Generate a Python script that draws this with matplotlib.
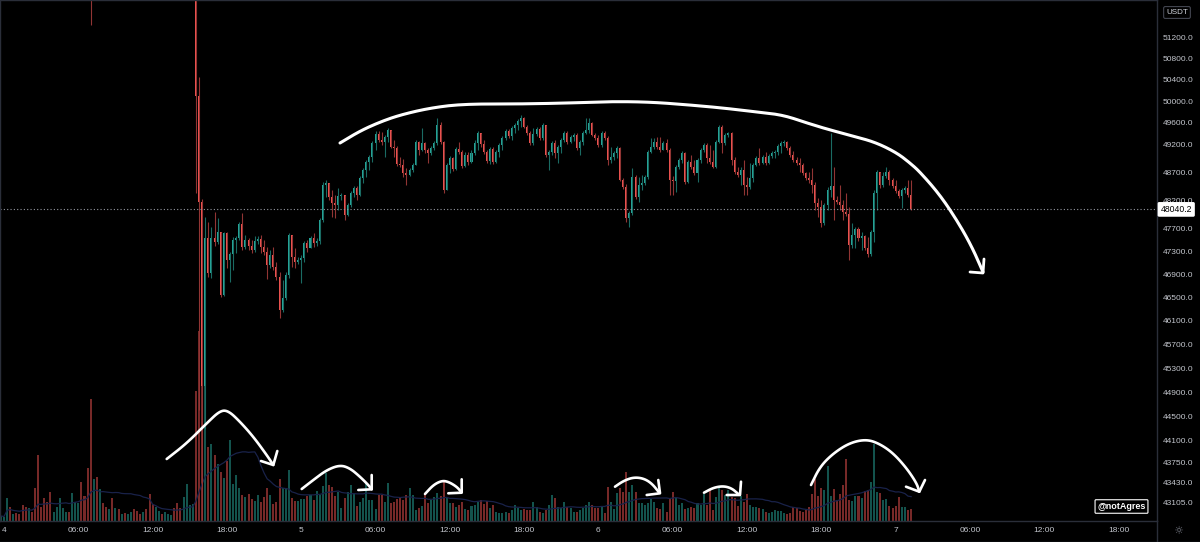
import numpy as np
import pandas as pd
import matplotlib
matplotlib.use("Agg")
import matplotlib.pyplot as plt

plt.rcParams['font.family'] = ['Liberation Sans', 'DejaVu Sans']

# 15 minute BTCUSDT candles, first one starts 3 Dec 23:45
t0 = pd.Timestamp("2021-12-03 23:45")
first_open = 53600.0

closes = [
    53650, 53700, 53820, 53760, 53800, 53740, 53700, 53560, 53480, 53530,
    53490, 53300, 52900, 52850, 52700, 52620, 52480, 52530, 52600, 52720,
    52760, 52800, 52770, 52880, 52950, 53000, 52800, 52700, 52450, 52200,
    52500, 52350, 52550, 52480, 52420, 52460, 52380, 52420, 52390, 52410,
    52380, 52400, 52430, 52390, 52360, 52340, 52370, 52330, 52180, 52100,
    52160, 52200, 52180, 52210, 52240, 52260, 52200, 52120, 52060, 52180,
    52350, 52400, 52450,
    50100, 48165, 45000, 47528, 46918, 47528, 47458, 47634, 46538, 47616,
    47143, 47248, 47493, 47528, 47775, 47370, 47493, 47388, 47318, 47476,
    47511, 47370, 47283, 47056, 47230, 47021, 46848, 46281, 46486, 46883,
    47581, 47195, 47108, 47143, 47178, 47440, 47353, 47528, 47440, 47476,
    47845, 48468, 48504, 48254, 48147, 48111, 48272, 48289, 47934, 48111,
    48325, 48415, 48289, 48594, 48737, 48882, 48972, 49226, 49390, 49281,
    49245, 49336, 49463, 49154, 49136, 48846, 48828, 48683, 48647, 48737,
    48828, 49245, 49099, 49226, 49099, 49044, 49136, 49226, 49554, 49245,
    48379, 48828, 48954, 48755, 49117, 49063, 48810, 49008, 48882, 49044,
    49226, 49409, 49208, 49063, 48900, 49117, 48882, 49063, 49190, 49318,
    49445, 49354, 49500, 49554, 49628, 49683, 49518, 49409, 49226, 49390,
    49482, 49318, 49554, 49008, 49063, 49226, 49044, 49154, 49281, 49409,
    49245, 49336, 49372, 49136, 49245, 49409, 49463, 49591, 49372, 49318,
    49190, 49409, 49318, 48918, 48972, 49044, 49136, 48558, 48432, 47881,
    47969, 48611, 48254, 48468, 48504, 48611, 49063, 49154, 49245, 49154,
    49099, 49226, 49099, 48558, 48540, 48791, 48918, 49044, 48522, 48882,
    48791, 48683, 48918, 49099, 49190, 48954, 48882, 48791, 49245, 49518,
    49226, 49372, 49409, 48918, 48701, 48647, 48737, 48468, 48432, 48594,
    48828, 48954, 48864, 48972, 48864, 48990, 49044, 49063, 49172, 49226,
    49245, 49136, 49008, 48918, 48864, 48828, 48683, 48594, 48558, 48468,
    48147, 48076, 47792, 48111, 48379, 48450, 48200, 48165, 48111, 47987,
    47952, 47405, 47581, 47687, 47528, 47563, 47353, 47248, 47634, 48325,
    48701, 48468, 48629, 48701, 48558, 48450, 48361, 48272, 48379, 48415,
    48289, 48040.2,
]

highs = [
    53700, 53760, 53880, 53860, 53840, 53830, 53780, 53720, 53590, 53570,
    53560, 53510, 53330, 52960, 52880, 52740, 52650, 52570, 52640, 52760,
    52790, 52840, 52830, 52920, 52990, 53050, 53020, 52830, 52720, 52480,
    52560, 52530, 52590, 52580, 52510, 52490, 52480, 52450, 52440, 52430,
    52430, 52420, 52450, 52450, 52410, 52380, 52390, 52390, 52350, 52200,
    52190, 52230, 52220, 52240, 52260, 52280, 52280, 52220, 52140, 52200,
    52380, 52430, 52480,
    52600, 50450, 48230, 47899, 47810, 47722, 47987, 47881, 47616, 47634,
    47634, 47283, 47546, 47563, 47810, 47969, 47581, 47528, 47493, 47563,
    47563, 47581, 47493, 47370, 47318, 47370, 47108, 46934, 46796, 46934,
    47616, 47405, 47353, 47195, 47230, 47476, 47493, 47563, 47616, 47528,
    47881, 48522, 48558, 48504, 48379, 48289, 48415, 48325, 48289, 48147,
    48361, 48450, 48450, 48629, 48773, 48918, 49008, 49263, 49445, 49445,
    49427, 49372, 49500, 49463, 49281, 49172, 48972, 48936, 48773, 48773,
    48864, 49281, 49263, 49500, 49245, 49136, 49172, 49263, 49683, 49609,
    49263, 48864, 48990, 48972, 49154, 49245, 49099, 49063, 49063, 49099,
    49281, 49445, 49409, 49281, 49099, 49154, 49154, 49099, 49226, 49354,
    49482, 49482, 49536, 49591, 49664, 49738, 49701, 49554, 49445, 49500,
    49518, 49518, 49591, 49554, 49099, 49263, 49281, 49190, 49318, 49445,
    49445, 49372, 49409, 49409, 49281, 49445, 49683, 49683, 49609, 49409,
    49372, 49445, 49445, 49354, 49154, 49081, 49172, 49154, 48594, 48486,
    48005, 48773, 48647, 48611, 48647, 48647, 49099, 49318, 49318, 49336,
    49336, 49263, 49299, 49136, 48629, 48828, 48954, 49081, 49063, 48918,
    49008, 48918, 48954, 49136, 49226, 49226, 49190, 49099, 49281, 49554,
    49554, 49409, 49427, 49427, 48972, 48791, 48791, 48918, 48611, 48864,
    48864, 48990, 49136, 49008, 49063, 49026, 49081, 49099, 49208, 49263,
    49281, 49263, 49172, 49081, 48972, 48954, 48864, 48701, 48701, 48773,
    48522, 48236, 48200, 48147, 48432, 49409, 48791, 48272, 48468, 48200,
    48325, 48076, 47792, 47722, 47722, 47634, 47581, 47546, 47669, 48379,
    48737, 48701, 48701, 48791, 48737, 48594, 48558, 48397, 48415, 48450,
    48558, 48558,
]

lows = [
    53560, 53620, 53680, 53720, 53730, 53700, 53660, 53520, 53430, 53450,
    53440, 53250, 52800, 52780, 52650, 52560, 52400, 52450, 52500, 52580,
    52690, 52730, 52740, 52750, 52860, 52930, 52760, 52650, 52380, 51430,
    52150, 52300, 52320, 52440, 52380, 52390, 52340, 52350, 52360, 52370,
    52350, 52360, 52380, 52370, 52330, 52310, 52320, 52300, 52120, 52040,
    52070, 52140, 52150, 52160, 52190, 52220, 52170, 52090, 52010, 52040,
    52160, 52320, 52380,
    48325, 44600, 42500, 44300, 46848, 46831, 47388, 47423, 46504, 46521,
    47004, 46762, 46969, 47265, 47493, 47318, 47335, 47318, 47265, 47283,
    47423, 47265, 47230, 46813, 47004, 46969, 46796, 46145, 46247, 46452,
    46831, 47021, 47004, 47073, 46745, 47108, 47283, 47353, 47370, 47388,
    47423, 47810, 48254, 48200, 47899, 47881, 48022, 48200, 47845, 47916,
    48076, 48254, 48200, 48272, 48504, 48611, 48737, 48882, 49099, 49245,
    49190, 48972, 49245, 49136, 48972, 48810, 48791, 48611, 48468, 48629,
    48701, 48828, 49008, 49081, 49044, 48864, 49008, 49099, 49190, 49208,
    48325, 48379, 48683, 48719, 48737, 49026, 48773, 48791, 48828, 48864,
    49008, 49099, 49154, 49026, 48864, 48846, 48846, 48864, 48972, 49099,
    49281, 49318, 49281, 49409, 49463, 49518, 49500, 49372, 49190, 49190,
    49354, 49281, 49281, 48972, 48737, 49008, 48954, 48864, 49044, 49245,
    49208, 49226, 49263, 49099, 49008, 49190, 49390, 49409, 49354, 49281,
    49154, 49154, 49281, 48828, 48864, 48918, 48954, 48540, 48397, 47810,
    47722, 47934, 48218, 48165, 48379, 48468, 48576, 49044, 49117, 49117,
    49063, 49117, 49063, 48289, 48289, 48343, 48755, 48864, 48486, 48504,
    48755, 48647, 48522, 48864, 49063, 48864, 48846, 48773, 48773, 49226,
    49044, 49190, 49336, 48828, 48665, 48611, 48468, 48289, 48289, 48397,
    48522, 48810, 48828, 48846, 48828, 48846, 48954, 48954, 49008, 49044,
    49172, 49099, 48972, 48882, 48828, 48701, 48647, 48558, 48504, 48325,
    48022, 47899, 47722, 47757, 48022, 48254, 47845, 48129, 48022, 47845,
    47916, 47143, 47353, 47353, 47476, 47318, 47318, 47195, 47213, 47458,
    48022, 48415, 48432, 48594, 48468, 48415, 48325, 48236, 48058, 48325,
    48254, 48022,
]

# volume per candle (x20 BTC)
volumes = [
    5, 4, 23, 14, 7, 8, 7, 16, 14, 13, 9, 33, 66, 14, 23, 19, 29, 9, 14, 23,
    13, 9, 9, 28, 19, 18, 39, 25, 53, 122, 42, 44, 32, 18, 14, 12, 23, 13, 12, 7,
    8, 7, 9, 12, 10, 7, 9, 12, 27, 17, 14, 10, 7, 9, 7, 6, 13, 18, 13, 24,
    37, 16, 17, 130, 190, 170, 150, 74, 77, 66, 57, 49, 43, 60, 81, 37, 46, 33, 26, 24,
    27, 22, 20, 26, 19, 24, 33, 26, 17, 19, 42, 33, 33, 51, 23, 20, 20,
    22, 22, 25, 26, 21, 30, 26, 35, 48, 36, 34, 25, 29, 13, 23, 29, 36, 28, 15, 19,
    23, 38, 21, 21, 12, 26, 26, 19, 38, 18, 19, 22, 23, 21, 26, 33, 26, 11, 13, 15,
    26, 18, 21, 24, 28, 25, 41, 24, 18, 18, 14, 16, 19, 12, 11, 15, 16, 19, 21, 17,
    20, 13, 16, 9, 8, 8, 9, 8, 11, 16, 13, 11, 12, 11, 11, 19, 14, 9, 8, 11,
    16, 26, 23, 14, 13, 19, 14, 13, 9, 9, 11, 13, 16, 19, 16, 13, 13,
    15, 8, 34, 19, 12, 28, 33, 29, 49, 29, 36, 29, 18, 18, 16, 18, 22, 19, 13, 12,
    18, 9, 22, 29, 23, 16, 18, 12, 13, 14, 13, 18, 16, 27, 16, 31, 11, 24, 35, 31,
    26, 31, 24, 23, 15, 25, 19, 27, 16, 14, 14, 13, 12, 9, 8, 9, 11, 10, 10, 8,
    7, 8, 14, 13, 10, 9, 11, 14, 27, 42, 25, 33, 31, 55, 25, 32, 21, 27, 36, 62,
    21, 20, 25, 25, 23, 30, 31, 39, 77, 29, 28, 21, 22, 15, 13, 15, 24, 14, 14, 11, 12,
]

price_ticks = [51200, 50800, 50400, 50000, 49600, 49200, 48700, 48200, 47700,
               47300, 46900, 46500, 46100, 45700, 45300, 44900, 44500, 44100,
               43750, 43430, 43105]
last_price = 48040.2

# hand drawn strokes on the screenshot (figure pixels)
main_arc = [(340, 143), (360, 131), (380, 122), (400, 115), (430, 108), (463, 104),
            (520, 104), (570, 103), (610, 101.5), (650, 102), (690, 105), (723, 108),
            (757, 112), (783, 115), (807, 123), (830, 130), (857, 137), (877, 143),
            (897, 153), (910, 163), (920, 172), (940, 195), (958, 222), (972, 247),
            (983, 272)]
main_head = [(970, 272), (983, 273), (984, 259)]
vol_arrows = [
    ([(166.7, 459), (186.7, 443.3), (206.7, 423.3), (220, 410.7), (228.3, 410.7),
      (240, 421.7), (253.3, 436.7), (266.7, 455), (273.3, 465)],
     [(261, 461), (273.3, 465), (277.3, 451)]),
    ([(301.7, 489), (313.3, 480), (326.7, 470), (340, 465), (350, 468.3),
      (360, 476.7), (368.3, 485), (371.7, 489.3)],
     [(358.3, 490), (371.7, 489.3), (371.7, 475)]),
    ([(425, 494), (433.3, 485), (441.7, 480.7), (448.3, 481.7), (456.7, 486.7),
      (461, 491.7)],
     [(448.3, 493.3), (461.7, 492.7), (461.7, 479.3)]),
    ([(615, 486.7), (623.3, 481), (633.3, 477.3), (643.3, 478.3), (651.7, 483.3),
      (659.3, 492.7)],
     [(646.7, 495), (660, 493.3), (658.3, 480)]),
    ([(704, 492.7), (713.3, 487.7), (723.3, 486), (731.7, 488.3), (738.3, 494)],
     [(726.7, 495), (740, 495), (741, 481.7)]),
    ([(811, 485), (820, 466.7), (833.3, 453.3), (850, 442.7), (866.7, 439.3),
      (880, 444), (893.3, 453.3), (906.7, 468.3), (916.7, 483.3), (919.3, 491.7)],
     [(906, 486.7), (919.3, 491.7), (925, 480)]),
]

UP, DOWN = '#26a69a', '#ef5350'
UP_WICK, DOWN_WICK = '#1a6b63', '#913534'
AXIS_TXT = '#c3c6cd'
BORDER = '#2a2e39'


def chaikin(pts, n=3):
    p = np.asarray(pts, float)
    for _ in range(n):
        q = 0.75 * p[:-1] + 0.25 * p[1:]
        r = 0.25 * p[:-1] + 0.75 * p[1:]
        mid = np.empty((2 * len(q), 2))
        mid[0::2] = q
        mid[1::2] = r
        p = np.vstack([p[:1], mid, p[-1:]])
    return p


times = pd.date_range(t0, periods=len(closes), freq="15min")
day0 = pd.Timestamp("2021-12-04")
x = ((times - day0) / pd.Timedelta("15min")).to_numpy()

c = np.array(closes, float)
o = np.r_[first_open, c[:-1]]
hi = np.maximum(np.array(highs, float), np.maximum(o, c))
lo = np.minimum(np.array(lows, float), np.minimum(o, c))
up = c >= o
body_col = np.where(up, UP, DOWN)
wick_col = np.where(up, UP_WICK, DOWN_WICK)

fig = plt.figure(figsize=(12, 5.42), dpi=100, facecolor='black')
rect = [0, 21 / 542, 1157 / 1200, 521 / 542]
xlim = (-4 / 3.096, (1157 - 4) / 3.096)

# volume pane (behind)
axv = fig.add_axes(rect)
axv.set_facecolor('black')
axv.bar(x, volumes, width=0.65, color=body_col, alpha=0.5, linewidth=0)
vma = pd.Series(volumes, dtype=float).rolling(20, min_periods=1).mean()
axv.plot(x, vma, color='#19224a', lw=0.9)
axv.set_xlim(*xlim)
axv.set_ylim(0, 521)
axv.axis('off')

# price pane
ax = fig.add_axes(rect)
ax.patch.set_alpha(0)
ax.set_yscale('log')
ax.vlines(x, lo, hi, colors=wick_col, lw=0.8)
bottom = np.minimum(o, c)
height = np.maximum(np.abs(c - o), bottom * 0.0004)
ax.bar(x, height, bottom=bottom, width=0.65, color=body_col, linewidth=0)
ax.axhline(last_price, color='#9598a1', lw=0.8, linestyle=(0, (1, 2)))
ax.set_xlim(*xlim)
ax.set_ylim(42815, 51905)

ax.yaxis.tick_right()
ax.set_yticks(price_ticks)
ax.set_yticklabels([f"{v:.1f}" for v in price_ticks])
ax.minorticks_off()

tick_times = pd.date_range("2021-12-04", "2021-12-07 18:00", freq="6h")
tick_x = ((tick_times - day0) / pd.Timedelta("15min")).to_numpy()
tick_lbl = [str(t.day) if t.hour == 0 else t.strftime("%H:%M") for t in tick_times]
ax.set_xticks(tick_x)
ax.set_xticklabels(tick_lbl)
ax.tick_params(axis='both', length=0, labelsize=6, labelcolor=AXIS_TXT)
ax.tick_params(axis='y', pad=4.3)
ax.tick_params(axis='x', pad=4)
for s in ax.spines.values():
    s.set_color(BORDER)
    s.set_linewidth(1)

ax.annotate(f"{last_price:.1f}", xy=(1.0, last_price), xycoords=('axes fraction', 'data'),
            xytext=(2.5, 0), textcoords='offset points', ha='left', va='center',
            fontsize=6.2, color='black', annotation_clip=False,
            bbox=dict(boxstyle='round,pad=0.25,rounding_size=0.1', fc='white', ec='white'))

# overlay in screenshot pixels for drawings and chrome
ov = fig.add_axes([0, 0, 1, 1])
ov.set_xlim(0, 1200)
ov.set_ylim(542, 0)
ov.axis('off')
ov.patch.set_alpha(0)

arc = chaikin(main_arc)
ov.plot(arc[:, 0], arc[:, 1], color='white', lw=2.2, solid_capstyle='round', solid_joinstyle='round')
hd = np.array(main_head)
ov.plot(hd[:, 0], hd[:, 1], color='white', lw=2.0, solid_capstyle='round')
for stroke, head in vol_arrows:
    s = chaikin(stroke)
    ov.plot(s[:, 0], s[:, 1], color='white', lw=1.9, solid_capstyle='round', solid_joinstyle='round')
    h = np.array(head)
    ov.plot(h[:, 0], h[:, 1], color='white', lw=1.9, solid_capstyle='round')

ov.plot([1157, 1157], [521, 542], color=BORDER, lw=1)
ov.plot([0, 1200], [541.5, 541.5], color=BORDER, lw=1)

ov.text(1177, 12.5, "USDT", ha='center', va='center', fontsize=5.8, color='#d1d4dc',
        bbox=dict(boxstyle='round,pad=0.3,rounding_size=0.2', fc='black', ec='#434651', lw=0.8))
ov.text(1121.5, 506.5, "@notAgres", ha='center', va='center', fontsize=6.5,
        fontweight='bold', color='white',
        bbox=dict(boxstyle='round,pad=0.25,rounding_size=0.1', fc='black', ec='white', lw=0.8))
ov.text(1178, 531, "\u263c", ha='center', va='center', fontsize=8, color='#787b86',
        family=['DejaVu Sans'])

fig.savefig("out.png", dpi=100, facecolor='black')
